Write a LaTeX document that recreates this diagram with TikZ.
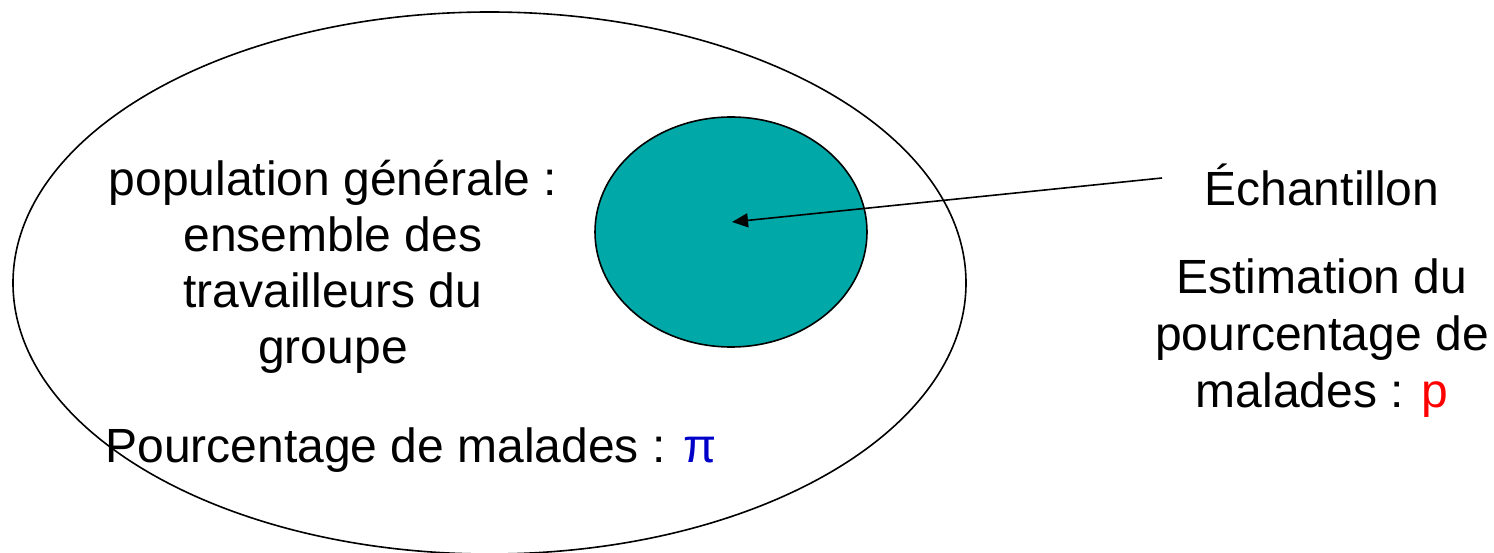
\documentclass[tikz,border=0pt]{standalone}
\usepackage{fontspec}
\setmainfont{Liberation Sans}
\usetikzlibrary{shapes.geometric,arrows.meta}
\definecolor{sampleteal}{RGB}{0,168,168}
\definecolor{piblue}{RGB}{0,0,200}
\definecolor{pred}{RGB}{255,0,0}
\begin{document}
\begin{tikzpicture}[x=1pt,y=-1pt,
  outline/.style={draw=black, line width=1.6pt, ellipse, inner sep=0pt},
  txtleft/.style={font=\fontsize{48pt}{56pt}\selectfont, inner sep=0pt, align=center, anchor=north},
  txtright/.style={font=\fontsize{48pt}{57pt}\selectfont, inner sep=0pt, align=center, anchor=north},
  pointer/.style={draw=black, line width=1.6pt, -{Triangle[length=16pt,width=14pt]}}]
\useasboundingbox (0,0) rectangle (1494,553);
\node[outline, minimum width=953pt, minimum height=542pt] (pop) at (489.5,283) {};
\node[outline, fill=sampleteal, minimum width=272pt, minimum height=230pt] (ech) at (731,232) {};
\node[txtleft] (poptext) at (333,147) {\rule{0pt}{48pt}population générale :\\ensemble des\\travailleurs du\\groupe};
\node[txtleft] (pitext) at (411,414) {\rule{0pt}{48pt}Pourcentage de malades : \textcolor{piblue}{π}};
\node[txtright] (echtext) at (1322,157) {\rule{0pt}{48pt}Échantillon};
\node[txtright] (esttext) at (1322,245) {\rule{0pt}{48pt}Estimation du\\pourcentage de\\malades : \textcolor{pred}{p}};
\coordinate (tail) at (1162,178);
\coordinate (tip) at (732,222);
\draw[pointer] (tail) -- (tip);
\end{tikzpicture}
\end{document}
